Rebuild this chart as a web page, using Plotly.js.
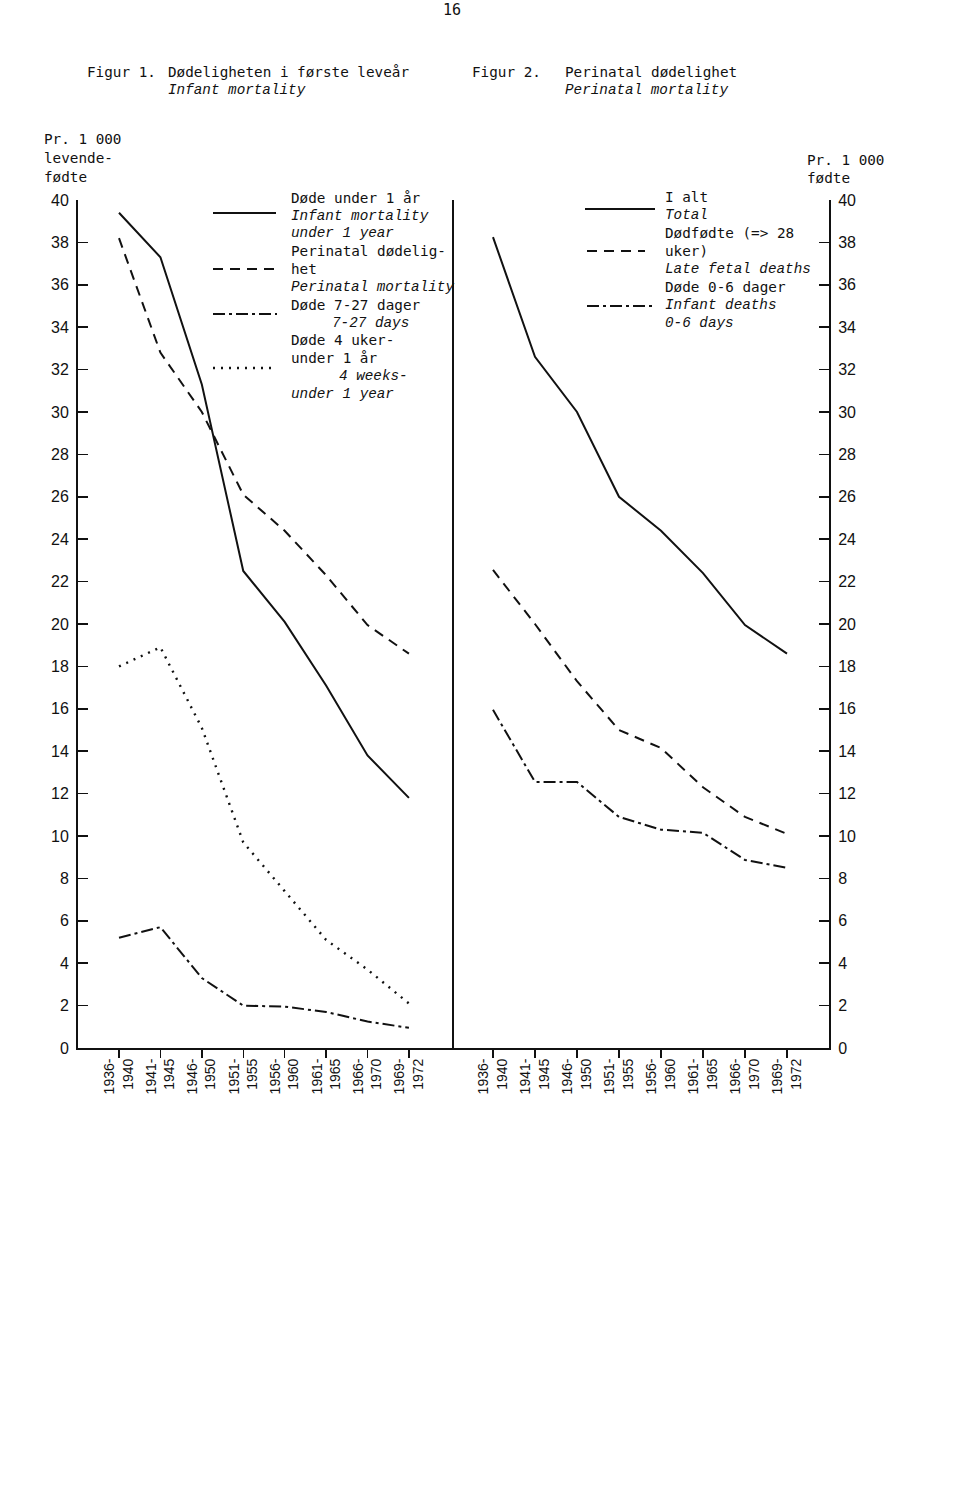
<!DOCTYPE html>
<html>
<head>
<meta charset="utf-8">
<script src="https://cdn.plot.ly/plotly-3.0.1.min.js"></script>
<style>html,body{margin:0;padding:0;background:#fff;}#chart{width:960px;height:1493px;}</style>
</head>
<body>
<div id="chart"></div>
<script>
// ---- data (per 1000) ----
const periods = ["1936-<br>1940","1941-<br>1945","1946-<br>1950","1951-<br>1955","1956-<br>1960","1961-<br>1965","1966-<br>1970","1969-<br>1972"];
// Figur 1: Infant mortality
const infantUnder1Year = [39.4, 37.3, 31.3, 22.5, 20.1, 17.1, 13.8, 11.8];
const perinatalMortality = [38.2, 32.8, 30.0, 26.1, 24.4, 22.3, 19.95, 18.6];
const deaths7to27Days = [5.2, 5.7, 3.3, 2.0, 1.95, 1.7, 1.25, 0.95];
const deaths4WeeksTo1Year = [18.0, 18.9, 15.1, 9.7, 7.4, 5.1, 3.7, 2.1];
// Figur 2: Perinatal mortality
const perinatalTotal = [38.25, 32.6, 30.0, 26.0, 24.4, 22.4, 19.95, 18.6];
const lateFetalDeaths = [22.55, 20.0, 17.3, 15.0, 14.15, 12.3, 10.9, 10.1];
const infantDeaths0to6Days = [15.95, 12.55, 12.55, 10.9, 10.3, 10.15, 8.87, 8.5];
const yTicks = [0,2,4,6,8,10,12,14,16,18,20,22,24,26,28,30,32,34,36,38,40];

const W = 960, H = 1493;
const px = x => x / W;
const py = y => 1 - y / H;
const INK = '#111';
const MONO = 'DejaVu Sans Mono, monospace';
const ITAL = 'Liberation Mono, Courier New, monospace';
const NUM = 'Liberation Sans, Arial, sans-serif';

const SOLID = 'solid', DASH = '10px,7px', DASHDOT = '12px,4px,3px,4px', DOT = '2px,6px';

function tr(x, y, axis, dash, w) {
  return {x: x, y: y, type: 'scatter', mode: 'lines', xaxis: 'x' + axis, yaxis: 'y' + axis,
    line: {color: INK, width: w || 2, dash: dash}, showlegend: false, hoverinfo: 'skip'};
}
const traces = [
  tr(periods, infantUnder1Year, '', SOLID),
  tr(periods, perinatalMortality, '', DASH),
  tr(periods, deaths7to27Days, '', DASHDOT),
  tr(periods, deaths4WeeksTo1Year, '', DOT, 2.4),
  tr(periods, perinatalTotal, '2', SOLID),
  tr(periods, lateFetalDeaths, '2', DASH),
  tr(periods, infantDeaths0to6Days, '2', DASHDOT)
];

function txt(x, y, text, opts) {
  opts = opts || {};
  return {xref: 'paper', yref: 'paper', x: px(x), y: py(y), text: opts.italic ? '<i>' + text + '</i>' : text,
    showarrow: false, xanchor: opts.anchor || 'left', yanchor: 'middle',
    font: {family: opts.italic ? ITAL : MONO, size: opts.size || 14.3, color: INK}};
}
function seg(x0, x1, y, dash, w) {
  return {type: 'line', xref: 'paper', yref: 'paper', x0: px(x0), x1: px(x1), y0: py(y), y1: py(y),
    line: {color: INK, width: w || 2, dash: dash}};
}

const annotations = [
  txt(452, 10, '16', {anchor: 'center', size: 15}),
  txt(85, 72, 'Figur 1.'),
  txt(166, 72, 'Dødeligheten i første leveår'),
  txt(166, 90, 'Infant mortality', {italic: true}),
  txt(470, 72, 'Figur 2.'),
  txt(563, 72, 'Perinatal dødelighet'),
  txt(563, 90, 'Perinatal mortality', {italic: true}),
  txt(42, 139, 'Pr. 1 000'),
  txt(42, 158, 'levende-'),
  txt(42, 177, 'fødte'),
  txt(805, 160, 'Pr. 1 000'),
  txt(805, 178, 'fødte'),
  // left legend
  txt(289, 198, 'Døde under 1 år'),
  txt(289, 216, 'Infant mortality', {italic: true}),
  txt(289, 233.5, 'under 1 year', {italic: true}),
  txt(289, 251, 'Perinatal dødelig-'),
  txt(289, 269, 'het'),
  txt(289, 287, 'Perinatal mortality', {italic: true}),
  txt(289, 305, 'Døde 7-27 dager'),
  txt(330, 322.5, '7-27 days', {italic: true}),
  txt(289, 340, 'Døde 4 uker-'),
  txt(289, 358, 'under 1 år'),
  txt(337, 376, '4 weeks-', {italic: true}),
  txt(289, 394, 'under 1 year', {italic: true}),
  // right legend
  txt(663, 197, 'I alt'),
  txt(663, 215, 'Total', {italic: true}),
  txt(663, 233, 'Dødfødte (=> 28'),
  txt(663, 251, 'uker)'),
  txt(663, 269, 'Late fetal deaths', {italic: true}),
  txt(663, 287, 'Døde 0-6 dager'),
  txt(663, 305, 'Infant deaths', {italic: true}),
  txt(663, 323, '0-6 days', {italic: true})
];

const shapes = [
  seg(213, 276, 213, SOLID),
  seg(213, 276, 269, DASH),
  seg(213, 277, 314, DASHDOT),
  seg(213, 277, 368, DOT, 2.4),
  seg(585, 655, 209, SOLID),
  seg(587, 645, 251, DASH),
  seg(587, 652, 306, DASHDOT)
];

const yDom = [py(1048), py(200)];
function xax(dom, rng, anchor) {
  return {domain: dom, anchor: anchor, type: 'category', categoryorder: 'array', categoryarray: periods,
    range: rng, showline: true, linecolor: INK, linewidth: 2, ticks: 'outside', ticklen: 8, tickwidth: 1.5,
    tickcolor: INK, tickangle: -90, tickfont: {family: NUM, size: 14, color: INK}, ticklabelstandoff: -5,
    showgrid: false, zeroline: false, fixedrange: true};
}
function yax(anchor, side, mirror) {
  return {domain: yDom, anchor: anchor, side: side, range: [0, 40], tickmode: 'array', tickvals: yTicks,
    ticktext: yTicks.map(String), showline: true, mirror: mirror, linecolor: INK, linewidth: 2,
    ticks: 'inside', ticklen: 10, tickwidth: 1.5, tickcolor: INK, ticklabelstandoff: 4,
    tickfont: {family: NUM, size: 16, color: INK}, showgrid: false, zeroline: false, fixedrange: true};
}

const layout = {
  width: W, height: H, margin: {l: 0, r: 0, t: 0, b: 0}, paper_bgcolor: '#fff', plot_bgcolor: '#fff',
  showlegend: false,
  xaxis: xax([px(78), px(452)], [-0.99, 8.04], 'y'),
  yaxis: yax('x', 'left', true),
  xaxis2: xax([px(452), px(829)], [-0.976, 8.0], 'y2'),
  yaxis2: yax('x2', 'right', false),
  annotations: annotations,
  shapes: shapes
};

Plotly.newPlot('chart', traces, layout, {displayModeBar: false, staticPlot: true});
</script>
</body>
</html>
